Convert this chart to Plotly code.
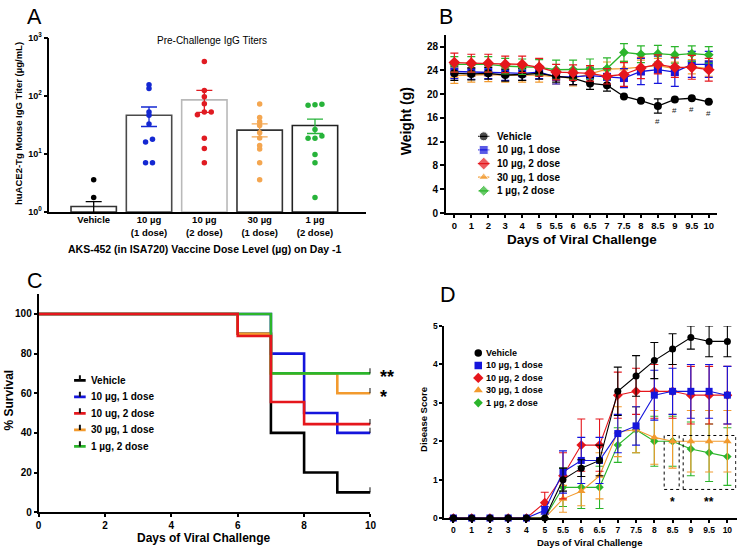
import numpy as np
import plotly.graph_objects as go

W, H = 743, 555
FONT = "Arial, 'Liberation Sans', Helvetica, sans-serif"

# ---------------- Panel A data: pre-challenge IgG titers ----------------
a_groups = ["Vehicle", "10 µg<br>(1 dose)", "10 µg<br>(2 dose)", "30 µg<br>(1 dose)", "1 µg<br>(2 dose)"]
a_means = [1.25, 46.7, 85.7, 25.8, 31.0]
a_err_hi = [1.51, 64.6, 125.0, 33.0, 40.0]
a_err_lo = [0.97, 29.8, 52.4, 19.7, 22.6]
a_vehicle = [3.6, 1.79]
a_10ug_1dose = [157, 135, 53, 46.7, 33, 18, 16.2, 7.1, 7.1]
a_10ug_2dose = [392, 125, 97.5, 73.4, 53, 53, 47.4, 18.7, 12.4, 7.1]
a_30ug_1dose = [72.5, 42.7, 36, 31, 23.2, 18.9, 14.1, 12.2, 7.1, 3.6]
a_1ug_2dose = [72, 70.6, 69, 26.5, 20.5, 18.7, 18.7, 9.8, 7.1, 1.79]
a_points = [a_vehicle, a_10ug_1dose, a_10ug_2dose, a_30ug_1dose, a_1ug_2dose]

# ---------------- Panel B data: body weight (g) ----------------
days = ["0", "1", "2", "3", "4", "5", "5.5", "6", "6.5", "7", "7.5", "8", "8.5", "9", "9.5", "10"]
series_names = ["Vehicle", "10 µg, 1 dose", "10 µg, 2 dose", "30 µg, 1 dose", "1 µg, 2 dose"]
c_names = ["Vehicle", "10 µg, 1 dose", "10 ug, 2 dose", "30 µg, 1 dose", "1 µg, 2 dose"]

b_vehicle = [23.5, 23.4, 23.5, 23.2, 23.3, 23.5, 23.0, 22.7, 21.8, 21.5, 19.6, 18.9, 18.0, 19.1, 19.3, 18.7]
b_10_1 = [23.8, 23.7, 23.7, 23.5, 23.5, 23.7, 22.9, 22.9, 23.1, 22.9, 22.7, 23.8, 24.1, 23.7, 25.0, 25.0]
b_10_2 = [25.3, 25.2, 25.2, 25.0, 25.0, 24.5, 23.7, 23.6, 23.5, 23.0, 23.3, 24.4, 25.0, 24.5, 24.5, 24.1]
b_30_1 = [23.1, 23.2, 23.3, 23.2, 23.2, 23.2, 22.9, 22.7, 23.4, 24.2, 24.3, 24.5, 24.8, 24.3, 24.6, 24.3]
b_1_2 = [25.0, 25.0, 25.0, 24.7, 24.6, 24.5, 24.1, 24.1, 24.2, 24.3, 27.0, 26.7, 26.8, 26.6, 26.8, 26.6]
b_vehicle_err = [1.2, 1.0, 1.0, 1.0, 1.0, 1.0, 1.0, 1.1, 1.0, 1.0, 0, 0, 1.2, 0, 0, 0]
b_10_1_err = [1.2, 1.2, 1.1, 1.2, 1.2, 1.1, 1.2, 1.3, 1.3, 1.5, 1.6, 2.2, 2.3, 2.4, 2.2, 2.2]
b_10_2_err = [1.6, 1.5, 1.5, 1.4, 1.4, 1.5, 1.3, 1.3, 1.3, 1.3, 2.0, 1.8, 1.6, 1.7, 2.0, 1.9]
b_30_1_err = [1.3, 1.2, 1.2, 1.2, 1.2, 1.2, 1.2, 1.3, 1.3, 1.2, 1.2, 1.2, 1.2, 1.1, 1.2, 1.3]
b_1_2_err = [1.3, 1.3, 1.3, 1.3, 1.3, 1.3, 1.6, 1.6, 1.7, 1.8, 1.5, 1.4, 1.4, 1.4, 1.3, 1.4]
b_sig_days = ["8.5", "9", "9.5", "10"]

# ---------------- Panel C data: survival (%) ----------------
c_vehicle_t = [0, 6, 7, 8, 9, 10]
c_vehicle_s = [100, 90, 40, 20, 10, 10]
c_10_1_t = [0, 7, 8, 9, 10]
c_10_1_s = [100, 80, 50, 40, 40]
c_10_2_t = [0, 6, 7, 8, 10]
c_10_2_s = [100, 88.9, 55.6, 44.4, 44.4]
c_30_1_t = [0, 6, 7, 9, 10]
c_30_1_s = [100, 90, 70, 60, 60]
c_1_2_t = [0, 7, 10]
c_1_2_s = [100, 70, 70]

# ---------------- Panel D data: disease score ----------------
d_vehicle = [0, 0, 0, 0, 0, 0, 1.0, 1.3, 1.5, 3.3, 3.7, 4.1, 4.4, 4.7, 4.6, 4.6]
d_10_1 = [0, 0, 0, 0, 0, 0.2, 1.2, 1.5, 1.5, 2.2, 2.4, 3.2, 3.3, 3.3, 3.3, 3.2]
d_10_2 = [0, 0, 0, 0, 0, 0.4, 1.1, 1.9, 1.9, 3.2, 3.3, 3.3, 3.3, 3.2, 3.2, 3.2]
d_30_1 = [0, 0, 0, 0, 0, 0, 0.5, 0.7, 1.1, 2.25, 2.3, 2.1, 2.0, 2.0, 2.0, 2.0]
d_1_2 = [0, 0, 0, 0, 0, 0, 0.8, 0.8, 0.8, 1.9, 2.3, 2.0, 2.0, 1.8, 1.7, 1.6]
d_vehicle_err = [0, 0, 0, 0, 0, 0, 0.3, 0.22, 0.4, 0.63, 0.53, 0.47, 0.4, 0.3, 0.4, 0.4]
d_10_1_err = [0, 0, 0, 0, 0, 0.1, 0.55, 0.6, 0.6, 0.5, 0.5, 0.65, 0.6, 0.7, 0.7, 0.75]
d_10_2_err = [0, 0, 0, 0, 0, 0.27, 0.6, 0.68, 0.68, 0.6, 0.6, 0.7, 0.7, 0.75, 0.75, 0.75]
d_30_1_err = [0, 0, 0, 0, 0, 0, 0.35, 0.38, 0.6, 0.65, 0.6, 0.7, 0.7, 0.8, 0.8, 0.8]
d_1_2_err = [0, 0, 0, 0, 0, 0, 0.5, 0.55, 0.55, 0.45, 0.6, 0.65, 0.65, 0.7, 0.75, 0.75]

# ---------------- styles ----------------
BLACK, BLUE, RED, ORANGE, GREEN = "#000000", "#1515DC", "#E5161C", "#F29A2E", "#2BB52B"
series_colors = [BLACK, BLUE, RED, ORANGE, GREEN]
a_point_colors = ["#000000", "#1428D2", "#E01B22", "#F4A650", "#27B33A"]
a_bar_lines = ["#333333", "#4a4a4a", "#b9b9b9", "#333333", "#222222"]
symbols = ["circle", "square", "diamond", "triangle-up", "diamond"]
CENSOR = "#111111"


def px_x(p):
    return p / W


def px_y(p):
    return 1 - p / H


def swarm_offsets(vals, thr=0.05, step=0.125):
    vals = np.asarray(vals, dtype=float)
    order = np.argsort(vals)
    logs = np.log10(vals[order])
    offs = np.zeros(len(vals))
    groups, cur = [], [order[0]]
    for k in range(1, len(order)):
        if logs[k] - logs[k - 1] < thr:
            cur.append(order[k])
        else:
            groups.append(cur)
            cur = [order[k]]
    groups.append(cur)
    for g in groups:
        n = len(g)
        for j, idx in enumerate(g):
            offs[idx] = (j - (n - 1) / 2) * step
    return offs


def nz(arr):
    return [v if v else None for v in arr]


fig = go.Figure()

# ---------- Panel A ----------
xa = list(range(len(a_groups)))
fig.add_trace(go.Bar(
    x=xa, y=[m - 1 for m in a_means], base=1, width=0.82,
    marker=dict(color="white", line=dict(color=a_bar_lines, width=1.6)),
    xaxis="x", yaxis="y", showlegend=False))
for i, pts in enumerate(a_points):
    offs = swarm_offsets(pts)
    fig.add_trace(go.Scatter(
        x=[i + o for o in offs], y=pts, mode="markers",
        marker=dict(color=a_point_colors[i], size=5.5),
        xaxis="x", yaxis="y", showlegend=False, cliponaxis=False))
    fig.add_trace(go.Scatter(
        x=[i], y=[a_means[i]], mode="markers", marker=dict(size=1, opacity=0),
        error_y=dict(type="data", symmetric=False,
                     array=[a_err_hi[i] - a_means[i]], arrayminus=[a_means[i] - a_err_lo[i]],
                     color=a_point_colors[i], thickness=1.3, width=8),
        xaxis="x", yaxis="y", showlegend=False))

# ---------- Panel B ----------
b_vals = [b_vehicle, b_10_1, b_10_2, b_30_1, b_1_2]
b_errs = [b_vehicle_err, b_10_1_err, b_10_2_err, b_30_1_err, b_1_2_err]
b_sizes = [8, 8, 9, 8, 7.5]
xi = list(range(len(days)))
for i in [3, 1, 0, 4, 2]:
    fig.add_trace(go.Scatter(
        x=xi, y=b_vals[i], mode="lines+markers",
        line=dict(color=series_colors[i], width=1.3),
        marker=dict(color=series_colors[i], size=b_sizes[i], symbol=symbols[i]),
        error_y=dict(type="data", array=nz(b_errs[i]), color=series_colors[i], thickness=1.2, width=4),
        xaxis="x2", yaxis="y2", showlegend=False, cliponaxis=False))

# B legend (keys drawn in panel coordinates)
b_key_x, b_key_half, b_text_x, b_top, b_step = 1.73, 0.33, 2.39, 12.9, 2.29
for i, name in enumerate(series_names):
    yy = b_top - i * b_step
    fig.add_trace(go.Scatter(
        x=[b_key_x - b_key_half, b_key_x, b_key_x + b_key_half], y=[yy] * 3, mode="lines+markers",
        line=dict(color=series_colors[i], width=1.3),
        marker=dict(color=series_colors[i], size=[0, b_sizes[i] + 1, 0], symbol=symbols[i]),
        xaxis="x2", yaxis="y2", showlegend=False, hoverinfo="skip"))

# ---------- Panel C ----------
c_t = [c_vehicle_t, c_10_1_t, c_10_2_t, c_30_1_t, c_1_2_t]
c_s = [c_vehicle_s, c_10_1_s, c_10_2_s, c_30_1_s, c_1_2_s]
tick_up = 2.6  # censor tick height in % units
for i in [0, 1, 3, 4, 2]:
    fig.add_trace(go.Scatter(
        x=c_t[i], y=c_s[i], mode="lines", line=dict(color=series_colors[i], width=2.6, shape="hv"),
        xaxis="x3", yaxis="y3", showlegend=False, cliponaxis=False))
    fig.add_trace(go.Scatter(
        x=[c_t[i][-1], c_t[i][-1]], y=[c_s[i][-1], c_s[i][-1] + tick_up], mode="lines",
        line=dict(color=CENSOR, width=2),
        xaxis="x3", yaxis="y3", showlegend=False, cliponaxis=False, hoverinfo="skip"))

c_key_x0, c_key_x1, c_text_x, c_top, c_step = 1.07, 1.42, 1.53, 66.5, 8.33
for i, name in enumerate(c_names):
    yy = c_top - i * c_step
    xm = (c_key_x0 + c_key_x1) / 2
    fig.add_trace(go.Scatter(
        x=[c_key_x0, c_key_x1], y=[yy, yy], mode="lines", line=dict(color=series_colors[i], width=2.6),
        xaxis="x3", yaxis="y3", showlegend=False, hoverinfo="skip"))
    fig.add_trace(go.Scatter(
        x=[xm, xm], y=[yy, yy + tick_up], mode="lines", line=dict(color=CENSOR, width=2),
        xaxis="x3", yaxis="y3", showlegend=False, hoverinfo="skip"))

# ---------- Panel D ----------
d_vals = [d_vehicle, d_10_1, d_10_2, d_30_1, d_1_2]
d_errs = [d_vehicle_err, d_10_1_err, d_10_2_err, d_30_1_err, d_1_2_err]
d_sizes = [7, 7, 7.5, 7.5, 6.5]
for i in [4, 3, 2, 1, 0]:
    fig.add_trace(go.Scatter(
        x=xi, y=d_vals[i], mode="lines+markers",
        line=dict(color=series_colors[i], width=1.1),
        marker=dict(color=series_colors[i], size=d_sizes[i], symbol=symbols[i]),
        error_y=dict(type="data", array=nz(d_errs[i]), color=series_colors[i], thickness=1.1, width=4),
        xaxis="x4", yaxis="y4", showlegend=False, cliponaxis=False))

d_key_x, d_text_x, d_top, d_step = 1.36, 1.70, 4.30, 0.325
for i, name in enumerate(series_names):
    yy = d_top - i * d_step
    fig.add_trace(go.Scatter(
        x=[d_key_x], y=[yy], mode="markers",
        marker=dict(color=series_colors[i], size=d_sizes[i] + 0.5, symbol=symbols[i]),
        xaxis="x4", yaxis="y4", showlegend=False, hoverinfo="skip"))

# ---------- axes ----------
axis_common = dict(showline=True, linecolor="black", linewidth=1.6, showgrid=False, zeroline=False,
                   ticks="outside", tickcolor="black", tickwidth=1.5, ticklen=4,
                   tickfont=dict(family=FONT, size=10, color="black", weight="bold"))

A_dom_x = [px_x(47), px_x(367)]
A_dom_y = [px_y(210), px_y(31.7)]
B_dom_x = [px_x(448.3), px_x(723)]
B_dom_y = [px_y(211), px_y(28.3)]
C_dom_x = [px_x(36), px_x(372)]
C_dom_y = [px_y(517.3), px_y(294)]
D_dom_x = [px_x(446.7), px_x(742.5)]
D_dom_y = [px_y(523.3), px_y(326.7)]

layout = dict(
    width=W, height=H, margin=dict(l=0, r=0, t=0, b=0),
    paper_bgcolor="white", plot_bgcolor="white", showlegend=False,
    font=dict(family=FONT, color="black"),
    xaxis=dict(axis_common, domain=A_dom_x, anchor="y", range=[-0.8, 4.914],
               tickvals=xa, ticktext=a_groups, ticks="", ticklen=0, ticklabelstandoff=-2,
               tickfont=dict(family=FONT, size=9.5, color="black", weight="bold")),
    yaxis=dict(axis_common, domain=A_dom_y, anchor="x", type="log", range=[0, 3],
               tickvals=[1, 10, 100, 1000],
               ticktext=["10<sup>0</sup>", "10<sup>1</sup>", "10<sup>2</sup>", "10<sup>3</sup>"],
               tickfont=dict(family=FONT, size=9, color="black", weight="bold")),
    xaxis2=dict(axis_common, domain=B_dom_x, anchor="y2", range=[-0.5, 15.5],
                tickvals=xi, ticktext=days, ticklen=3,
                tickfont=dict(family=FONT, size=9.5, color="black", weight="bold")),
    yaxis2=dict(axis_common, domain=B_dom_y, anchor="x2", range=[0, 30], tick0=0, dtick=4,
                tickfont=dict(family=FONT, size=10, color="black", weight="bold")),
    xaxis3=dict(axis_common, domain=C_dom_x, anchor="y3", range=[0, 10], tick0=0, dtick=2, ticklen=3),
    yaxis3=dict(axis_common, domain=C_dom_y, anchor="x3", range=[0, 110], tick0=0, dtick=20, ticklen=3),
    xaxis4=dict(axis_common, domain=D_dom_x, anchor="y4", range=[-0.5, 15.5],
                tickvals=xi, ticktext=days, ticklen=3,
                tickfont=dict(family=FONT, size=8.5, color="black", weight="bold")),
    yaxis4=dict(axis_common, domain=D_dom_y, anchor="x4", range=[0, 5], tick0=0, dtick=1, ticklen=3,
                tickfont=dict(family=FONT, size=8.5, color="black", weight="bold")),
)
fig.update_layout(**layout)

ann = []


def paper_text(text, x, y, size, bold=True, angle=0, xanchor="center"):
    ann.append(dict(text=text, x=px_x(x), y=px_y(y), xref="paper", yref="paper",
                    xanchor=xanchor, yanchor="middle", showarrow=False, textangle=angle,
                    font=dict(family=FONT, size=size, color="black", weight="bold" if bold else "normal")))


# panel letters
paper_text("A", 22, 10, 21.5, bold=False, xanchor="left")
paper_text("B", 439, 10, 21.5, bold=False, xanchor="left")
paper_text("C", 22, 281, 21.5, bold=False, xanchor="left")
paper_text("D", 440, 295, 21.5, bold=False, xanchor="left")

# titles
paper_text("Pre-Challenge IgG Titers", 212, 34, 10, bold=False)
paper_text("huACE2-Tg Mouse IgG Titer (µg/mL)", 15, 119, 9.5, angle=-90)
paper_text("AKS-452 (in ISA720) Vaccine Dose Level (µg) on Day -1", 204, 248, 10.5)
paper_text("Weight (g)", 407.5, 117.5, 14, angle=-90)
paper_text("Days of Viral Challenge", 586, 238.5, 13.5)
paper_text("% Survival", 6, 402, 12, angle=-90)
paper_text("Days of Viral Challenge", 203, 544, 12)
paper_text("Disease Score", 425, 422, 9.5, angle=-90)
paper_text("Days of Viral Challenge", 594, 548.5, 9.5)

# panel B legend text and significance marks
for i, name in enumerate(series_names):
    ann.append(dict(text=name, x=b_text_x, y=b_top - i * b_step, xref="x2", yref="y2",
                    xanchor="left", yanchor="middle", showarrow=False,
                    font=dict(family=FONT, size=10, color="black", weight="bold")))
for d in b_sig_days:
    k = days.index(d)
    ann.append(dict(text="#", x=k, y=b_vehicle[k] - b_vehicle_err[k], xref="x2", yref="y2",
                    xanchor="center", yanchor="top", yshift=-2 if b_vehicle_err[k] else -5,
                    showarrow=False, font=dict(family=FONT, size=8, color="#222222")))

# panel C legend text and significance
for i, name in enumerate(c_names):
    ann.append(dict(text=name, x=c_text_x, y=c_top - i * c_step, xref="x3", yref="y3",
                    xanchor="left", yanchor="middle", showarrow=False,
                    font=dict(family=FONT, size=10, color="black", weight="bold")))
ann.append(dict(text="**", x=c_1_2_t[-1], y=c_1_2_s[-1], xref="x3", yref="y3", xanchor="left",
                yanchor="middle", xshift=8, yshift=-4, showarrow=False,
                font=dict(family=FONT, size=18, color="black", weight="bold")))
ann.append(dict(text="*", x=c_30_1_t[-1], y=c_30_1_s[-1], xref="x3", yref="y3", xanchor="left",
                yanchor="middle", xshift=8, yshift=-4, showarrow=False,
                font=dict(family=FONT, size=18, color="black", weight="bold")))

# panel D legend text, boxes, significance
for i, name in enumerate(series_names):
    ann.append(dict(text=name, x=d_text_x, y=d_top - i * d_step, xref="x4", yref="y4",
                    xanchor="left", yanchor="middle", showarrow=False,
                    font=dict(family=FONT, size=9, color="black", weight="bold")))
k1 = days.index("8.5")
k2a, k2b = days.index("9"), days.index("10")
box_lo, box_hi = 0.745, 2.15
shapes = [
    dict(type="rect", xref="x4", yref="y4", x0=k1 - 0.46, x1=k1 + 0.36, y0=box_lo, y1=box_hi,
         line=dict(color="black", width=1, dash="dot")),
    dict(type="rect", xref="x4", yref="y4", x0=k2a - 0.42, x1=k2b + 0.46, y0=box_lo, y1=box_hi,
         line=dict(color="black", width=1, dash="dot")),
]
ann.append(dict(text="*", x=k1, y=box_lo, xref="x4", yref="y4", xanchor="center", yanchor="top",
                yshift=-4, showarrow=False, font=dict(family=FONT, size=12, color="black", weight="bold")))
ann.append(dict(text="**", x=(k2a + k2b) / 2, y=box_lo, xref="x4", yref="y4", xanchor="center",
                yanchor="top", yshift=-4, showarrow=False,
                font=dict(family=FONT, size=12, color="black", weight="bold")))

fig.update_layout(annotations=ann, shapes=shapes)
fig.write_html("out.html", config={"displayModeBar": False},
               post_script="document.body.style.margin='0px';document.body.style.overflow='hidden';")
